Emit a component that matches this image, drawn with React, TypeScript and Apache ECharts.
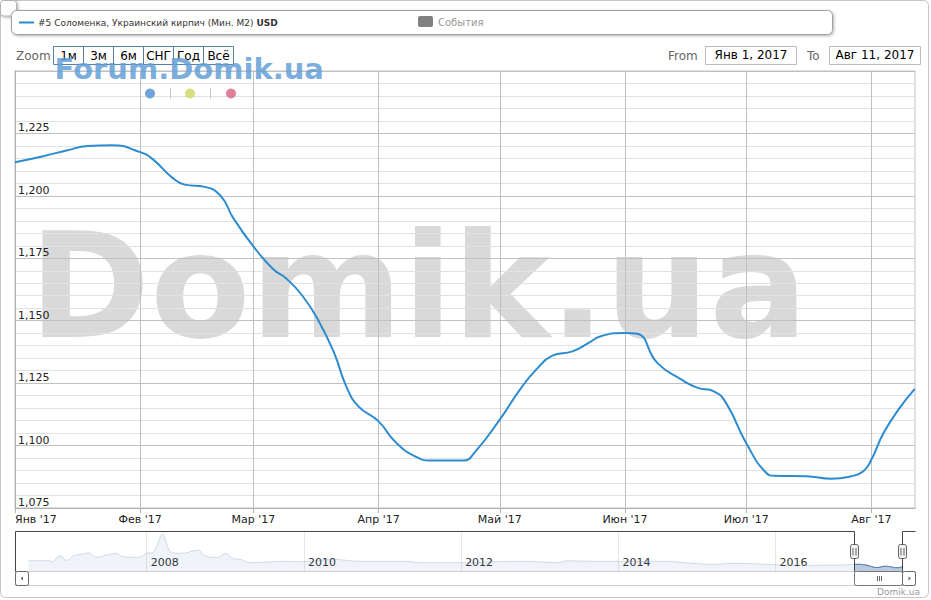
import React, { useEffect, useRef } from 'react';
import * as echarts from 'echarts';

// ---------- data ----------
const monthNames = ['Янв', 'Фев', 'Мар', 'Апр', 'Май', 'Июн', 'Июл', 'Авг', 'Сен', 'Окт', 'Ноя', 'Дек'];

const mainDates = [
  '2017-01-01', '2017-01-08', '2017-01-14', '2017-01-19', '2017-01-25', '2017-02-01', '2017-02-04',
  '2017-02-09', '2017-02-12', '2017-02-17', '2017-02-21', '2017-02-24', '2017-03-01', '2017-03-06',
  '2017-03-09', '2017-03-13', '2017-03-17', '2017-03-21', '2017-03-24', '2017-03-27', '2017-04-01',
  '2017-04-05', '2017-04-10', '2017-04-14', '2017-04-22', '2017-04-25', '2017-05-01', '2017-05-06',
  '2017-05-10', '2017-05-14', '2017-05-19', '2017-05-23', '2017-05-26', '2017-06-01', '2017-06-04',
  '2017-06-09', '2017-06-15', '2017-06-19', '2017-06-23', '2017-06-26', '2017-07-01', '2017-07-06',
  '2017-07-08', '2017-07-16', '2017-07-22', '2017-07-27', '2017-07-30', '2017-08-01', '2017-08-04',
  '2017-08-08', '2017-08-11 18:00',
];
const mainValues = [
  1213.5, 1215.9, 1218.3, 1220.0, 1220.3, 1217.5, 1214.8,
  1207.2, 1204.5, 1203.6, 1199.8, 1191.2, 1179.8, 1170.5,
  1167.1, 1160.3, 1150.4, 1137.1, 1123.7, 1115.7, 1109.7,
  1101.7, 1095.7, 1094.0, 1094.0, 1097.7, 1110.4, 1122.4,
  1130.4, 1136.0, 1137.7, 1141.1, 1143.8, 1145.1, 1144.8,
  1133.1, 1126.4, 1123.1, 1121.7, 1117.1, 1101.0, 1089.0,
  1087.9, 1087.7, 1086.7, 1087.7, 1089.7, 1094.4, 1105.0,
  1115.1, 1122.7,
];

const monthTicks = ['2017-01-01', '2017-02-01', '2017-03-01', '2017-04-01', '2017-05-01', '2017-06-01', '2017-07-01', '2017-08-01'];
const yMin = 1075;
const yMax = 1250;
const yStep = 25;

const rangeFrom = '2017-01-01';
const rangeTo = '2017-08-11 19:00';

// navigator (history)
const navDates = [
  '2006-07-01', '2006-10-08', '2006-10-23', '2006-11-18', '2006-12-02', '2006-12-17', '2007-01-01',
  '2007-01-26', '2007-03-10', '2007-04-05', '2007-05-12', '2007-06-28', '2007-08-08', '2007-09-13',
  '2007-10-31', '2007-11-29', '2008-01-01', '2008-01-30', '2008-03-14', '2008-04-20', '2008-06-03',
  '2008-07-06', '2008-07-20', '2008-08-29', '2008-09-20', '2008-10-23', '2008-11-28', '2009-01-01',
  '2009-02-06', '2009-03-11', '2009-04-23', '2009-07-13', '2009-09-28', '2009-12-13', '2010-02-28',
  '2010-05-16', '2010-07-02', '2010-09-17', '2011-01-04', '2011-04-23', '2011-06-25', '2011-11-10',
  '2012-02-10', '2012-05-30', '2012-10-30', '2013-03-24', '2013-05-06', '2013-09-06', '2014-02-10',
  '2014-08-15', '2014-12-13', '2015-03-18', '2015-06-18', '2015-10-20', '2016-01-22', '2016-06-10',
  '2016-10-15',
];
const navValues = [
  1362, 1362, 1322, 1547, 1547, 1389, 1389,
  1559, 1626, 1677, 1496, 1586, 1653, 1519,
  1496, 1496, 1653, 1677, 2414, 1716, 1653,
  1677, 1716, 1783, 1586, 1496, 1496, 1653,
  1440, 1417, 1283, 1310, 1338, 1322, 1362,
  1417, 1389, 1338, 1338, 1338, 1283, 1283,
  1283, 1322, 1338, 1283, 1362, 1338, 1338,
  1338, 1259, 1220, 1259, 1232, 1192, 1180,
  1190,
];
const navYearTicks = ['2008-01-01', '2010-01-01', '2012-01-01', '2014-01-01', '2016-01-01'];
const navFrom = '2006-04-29';
const navTo = '2017-10-10';
const navYMin = 956;
const navYMax = 2531;

// texts
const legendName = '#5 Соломенка, Украинский кирпич (Мин. М2)';
const legendUnit = 'USD';
const eventsLabel = 'События';
const zoomLabel = 'Zoom';
const zoomButtons = ['1м', '3м', '6м', 'СНГ', 'Год', 'Всё'];
const fromLabel = 'From';
const toLabel = 'To';
const fromValue = 'Янв 1, 2017';
const toValue = 'Авг 11, 2017';
const watermarkBig = 'Domik.ua';
const watermarkSmall = 'Forum.Domik.ua';
const credits = 'Domik.ua';

// ---------- helpers ----------
const ts = (s: string) => {
  const [d, t] = s.split(' ');
  const [y, m, dd] = d.split('-').map(Number);
  const [hh, mm] = t ? t.split(':').map(Number) : [0, 0];
  return new Date(y, m - 1, dd, hh, mm).getTime();
};

const FONT = '"DejaVu Sans", sans-serif';
const LINE_COLOR = '#2d8bd0';

function buildGraphics(h0: number, h1: number) {
  const g: any[] = [];
  g.push({ type: 'rect', silent: true, z: -10, shape: { x: 0.5, y: 0.5, width: 928, height: 597, r: 5 }, style: { fill: 'none', stroke: '#c4c4c4', lineWidth: 1 } });
  g.push({ type: 'text', silent: true, z: -5, x: 29, y: 286, style: { text: watermarkBig, fill: '#d9d9d9', fontSize: 146, fontWeight: 'bold', fontFamily: FONT, align: 'left', verticalAlign: 'middle' } });
  g.push({ type: 'rect', silent: true, shape: { x: 0.5, y: 0.5, width: 16, height: 15.5, r: 3 }, style: { fill: '#fff', stroke: '#b0b0b0', lineWidth: 1, shadowBlur: 3, shadowColor: 'rgba(0,0,0,0.3)', shadowOffsetX: 1, shadowOffsetY: 1 } });
  g.push({ type: 'rect', silent: true, shape: { x: 11.5, y: 10.5, width: 821, height: 24, r: 5 }, style: { fill: '#fff', stroke: '#a0a0a0', lineWidth: 1, shadowBlur: 3, shadowColor: 'rgba(0,0,0,0.3)', shadowOffsetX: 1, shadowOffsetY: 1 } });
  g.push({ type: 'line', silent: true, shape: { x1: 19, y1: 22.5, x2: 34, y2: 22.5 }, style: { stroke: LINE_COLOR, lineWidth: 2 } });
  g.push({
    type: 'text', silent: true, x: 38, y: 22.5,
    style: {
      text: '{a|' + legendName + ' }{b|' + legendUnit + '}',
      verticalAlign: 'middle', align: 'left',
      rich: {
        a: { fontSize: 9, fontFamily: FONT, fill: '#333', color: '#333' },
        b: { fontSize: 9, fontFamily: FONT, fontWeight: 'bold', fill: '#333', color: '#333' },
      },
    },
  });
  g.push({ type: 'rect', silent: true, shape: { x: 418, y: 16, width: 15, height: 11, r: 2 }, style: { fill: '#808080' } });
  g.push({ type: 'text', silent: true, x: 438, y: 22.5, style: { text: eventsLabel, fill: '#999', fontSize: 10, fontFamily: FONT, align: 'left', verticalAlign: 'middle' } });

  g.push({ type: 'text', silent: true, x: 16, y: 56, style: { text: zoomLabel, fill: '#666', fontSize: 12, fontFamily: FONT, align: 'left', verticalAlign: 'middle' } });
  zoomButtons.forEach((b, i) => {
    g.push({ type: 'rect', silent: true, shape: { x: 53.5 + 30 * i, y: 46.5, width: 30, height: 18 }, style: { fill: 'none', stroke: '#5b7ea8', lineWidth: 1 } });
    g.push({ type: 'text', silent: true, x: 68.5 + 30 * i, y: 55.5, style: { text: b, fill: '#000', fontSize: 12, fontFamily: FONT, align: 'center', verticalAlign: 'middle' } });
  });
  g.push({ type: 'text', silent: true, x: 668, y: 55.5, style: { text: fromLabel, fill: '#666', fontSize: 12, fontFamily: FONT, align: 'left', verticalAlign: 'middle' } });
  g.push({ type: 'rect', silent: true, shape: { x: 705.5, y: 46.5, width: 91, height: 18 }, style: { fill: '#fff', stroke: '#bbb', lineWidth: 1 } });
  g.push({ type: 'text', silent: true, x: 751, y: 55, style: { text: fromValue, fill: '#000', fontSize: 12, fontFamily: FONT, align: 'center', verticalAlign: 'middle' } });
  g.push({ type: 'text', silent: true, x: 807, y: 55.5, style: { text: toLabel, fill: '#666', fontSize: 12, fontFamily: FONT, align: 'left', verticalAlign: 'middle' } });
  g.push({ type: 'rect', silent: true, shape: { x: 829.5, y: 46.5, width: 91, height: 18 }, style: { fill: '#fff', stroke: '#bbb', lineWidth: 1 } });
  g.push({ type: 'text', silent: true, x: 875, y: 55, style: { text: toValue, fill: '#000', fontSize: 12, fontFamily: FONT, align: 'center', verticalAlign: 'middle' } });

  g.push({ type: 'text', silent: true, z: 5, x: 54.5, y: 69, style: { text: watermarkSmall, fill: 'rgba(100,160,215,0.85)', fontSize: 29, fontWeight: 'bold', fontFamily: FONT, align: 'left', verticalAlign: 'middle' } });
  g.push({ type: 'circle', silent: true, z: 5, shape: { cx: 150, cy: 93.5, r: 5 }, style: { fill: '#6fa3d9' } });
  g.push({ type: 'line', silent: true, z: 5, shape: { x1: 170.5, y1: 88, x2: 170.5, y2: 99 }, style: { stroke: '#c8c8c8', lineWidth: 1 } });
  g.push({ type: 'circle', silent: true, z: 5, shape: { cx: 190, cy: 93.5, r: 5 }, style: { fill: '#d6de7e' } });
  g.push({ type: 'line', silent: true, z: 5, shape: { x1: 210.5, y1: 88, x2: 210.5, y2: 99 }, style: { stroke: '#c8c8c8', lineWidth: 1 } });
  g.push({ type: 'circle', silent: true, z: 5, shape: { cx: 231, cy: 93.5, r: 5 }, style: { fill: '#df7f98' } });

  const a = Math.round(h0) + 0.5;
  const b = Math.round(h1) + 0.5;
  g.push({ type: 'rect', silent: true, shape: { x: 15.5, y: 571.5, width: 900, height: 14 }, style: { fill: '#fff', stroke: '#cfcfcf', lineWidth: 1 } });
  g.push({ type: 'polyline', silent: true, z: 6, shape: { points: [[15.5, 571.5], [15.5, 531.5], [a, 531.5], [a, 571.5]] }, style: { fill: 'none', stroke: '#444', lineWidth: 1 } });
  g.push({ type: 'polyline', silent: true, z: 6, shape: { points: [[b, 571.5], [b, 531.5], [915.5, 531.5]] }, style: { fill: 'none', stroke: '#444', lineWidth: 1 } });
  g.push({ type: 'rect', silent: true, z: 6, shape: { x: 15.5, y: 571.5, width: 13, height: 14, r: 2 }, style: { fill: '#fff', stroke: '#666', lineWidth: 1 } });
  g.push({ type: 'polygon', silent: true, z: 6, shape: { points: [[20.5, 578.5], [23, 576.5], [23, 580.5]] }, style: { fill: '#666' } });
  g.push({ type: 'rect', silent: true, z: 6, shape: { x: a, y: 571.5, width: b - a, height: 14, r: 2 }, style: { fill: '#fff', stroke: '#777', lineWidth: 1 } });
  const mid = Math.round((a + b) / 2);
  [-2, 0, 2].forEach((d) => {
    g.push({ type: 'line', silent: true, z: 6, shape: { x1: mid + d + 0.5, y1: 576, x2: mid + d + 0.5, y2: 581 }, style: { stroke: '#666', lineWidth: 1 } });
  });
  g.push({ type: 'rect', silent: true, z: 6, shape: { x: b, y: 571.5, width: 915.5 - b, height: 14, r: 2 }, style: { fill: '#fff', stroke: '#666', lineWidth: 1 } });
  g.push({ type: 'polygon', silent: true, z: 6, shape: { points: [[b + 8.5, 578.5], [b + 6, 576.5], [b + 6, 580.5]] }, style: { fill: '#666' } });
  [a, b].forEach((x) => {
    g.push({ type: 'rect', silent: true, z: 7, shape: { x: x - 4, y: 544.5, width: 8, height: 14, r: 2 }, style: { fill: '#f2f2f2', stroke: '#666', lineWidth: 1 } });
    g.push({ type: 'line', silent: true, z: 7, shape: { x1: x - 1.5, y1: 548, x2: x - 1.5, y2: 555.5 }, style: { stroke: '#666', lineWidth: 1 } });
    g.push({ type: 'line', silent: true, z: 7, shape: { x1: x + 1.5, y1: 548, x2: x + 1.5, y2: 555.5 }, style: { stroke: '#666', lineWidth: 1 } });
  });
  g.push({ type: 'text', silent: true, x: 920, y: 592, style: { text: credits, fill: '#999', fontSize: 9, fontFamily: FONT, align: 'right', verticalAlign: 'middle' } });
  return g;
}

export default function App() {
  const ref = useRef<HTMLDivElement>(null);
  useEffect(() => {
    if (!ref.current) return;
    const chart = echarts.init(ref.current, undefined, { renderer: 'svg' });
    const mainData = mainDates.map((d, i) => [ts(d), mainValues[i]]);
    const navData = navDates.map((d, i) => [ts(d), navValues[i]]).concat(mainData);
    const monthTickValues = monthTicks.map(ts);
    const navTickValues = navYearTicks.map(ts);

    const option: any = {
      animation: false,
      grid: [
        { left: 15, top: 71, width: 900, height: 437, show: true, borderColor: '#c0c0c0', borderWidth: 1, backgroundColor: 'transparent', containLabel: false, outerBoundsMode: 'none' },
        { left: 15, top: 531, width: 900, height: 40, show: false, containLabel: false, outerBoundsMode: 'none' },
      ],
      xAxis: [
        {
          type: 'value', gridIndex: 0, min: ts(rangeFrom), max: ts(rangeTo),
          axisLine: { show: true, lineStyle: { color: '#b0b0b0', width: 1 } },
          axisTick: { show: true, length: 5, lineStyle: { color: '#b0b0b0' }, customValues: monthTickValues },
          axisLabel: {
            customValues: monthTickValues,
            formatter: (v: number) => { const d = new Date(v); return monthNames[d.getMonth()] + " '" + String(d.getFullYear()).slice(2); },
            color: '#222', fontSize: 11, fontFamily: FONT, margin: 6, alignMinLabel: 'left', hideOverlap: false,
          },
          splitLine: { show: true, lineStyle: { color: '#c0c0c0', width: 1 } },
        },
        {
          type: 'value', gridIndex: 1, min: ts(navFrom), max: ts(navTo),
          axisLine: { show: true, lineStyle: { color: '#cfcfcf' } },
          axisTick: { show: false, customValues: navTickValues },
          axisLabel: {
            customValues: navTickValues, inside: true,
            formatter: (v: number) => String(new Date(v).getFullYear()),
            color: '#333', fontSize: 11, fontFamily: FONT, align: 'left', verticalAlign: 'bottom', margin: 3, padding: [0, 0, 0, 4],
          },
          splitLine: { show: true, lineStyle: { color: '#e8e8e8', width: 1 } },
        },
      ],
      yAxis: [
        {
          type: 'value', gridIndex: 0, min: yMin, max: yMax, interval: yStep,
          axisLine: { show: true, lineStyle: { color: '#b0b0b0' } },
          axisTick: { show: false },
          axisLabel: {
            inside: true, showMaxLabel: false, showMinLabel: true,
            formatter: (v: number) => v.toLocaleString('en-US'),
            color: '#222', fontSize: 11, fontFamily: FONT, margin: 3, verticalAlign: 'bottom', align: 'left',
          },
          splitLine: { show: true, lineStyle: { color: '#c0c0c0', width: 1 } },
          minorTick: { show: false, splitNumber: 5 },
          minorSplitLine: { show: true, lineStyle: { color: '#e2e2e2', width: 1 } },
        },
        { type: 'value', gridIndex: 1, min: navYMin, max: navYMax, show: false, splitLine: { show: false } },
      ],
      series: [
        {
          type: 'line', xAxisIndex: 0, yAxisIndex: 0, data: mainData, smooth: 0.5,
          showSymbol: false, symbol: 'none', lineStyle: { color: LINE_COLOR, width: 2 }, z: 3, clip: true,
        },
        {
          type: 'line', xAxisIndex: 1, yAxisIndex: 1, data: navData, smooth: 0.3,
          showSymbol: false, symbol: 'none', lineStyle: { color: 'rgba(69,114,167,0.22)', width: 1 },
          areaStyle: { color: 'rgba(69,114,167,0.12)' }, z: 2,
        },
        {
          type: 'line', xAxisIndex: 1, yAxisIndex: 1, data: mainData, smooth: 0.3,
          showSymbol: false, symbol: 'none', lineStyle: { color: '#4572a7', width: 1 },
          areaStyle: { color: 'rgba(69,114,167,0.45)' }, z: 3,
        },
      ],
    };
    chart.setOption(option);
    const p0 = chart.convertToPixel({ gridIndex: 1 }, [ts(rangeFrom), navYMin]) as number[];
    const p1 = chart.convertToPixel({ gridIndex: 1 }, [ts(rangeTo), navYMin]) as number[];
    chart.setOption({ graphic: { elements: buildGraphics(p0[0], p1[0]) } });
    return () => chart.dispose();
  }, []);
  return <div ref={ref} style={{ position: 'fixed', left: 0, top: 0, width: 931, height: 600, background: '#fff' }} />;
}
